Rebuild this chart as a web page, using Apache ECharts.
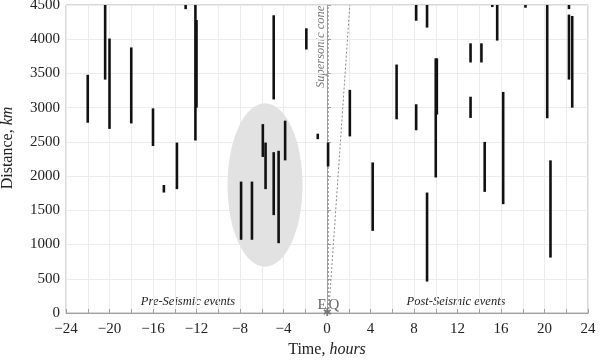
<!DOCTYPE html>
<html>
<head>
<meta charset="utf-8">
<script src="https://cdn.jsdelivr.net/npm/echarts@6/dist/echarts.min.js"></script>
<style>html,body{margin:0;padding:0;background:#fff}#c{width:600px;height:360px}</style>
</head>
<body>
<div id="c"></div>
<script>
// Event bars: time (hours), upper and lower distance (km)
const barTimes = [-22, -20.4, -20.0, -18.0, -16.0, -15.0, -13.8, -13.0, -12.1, -12.0,
  -4.9, -1.9, -0.85, 0.1, -7.9, -6.9, -5.9, -5.65, -4.9, -4.45, -3.85,
  2.1, 4.2, 6.4, 8.2, 8.2, 9.2, 9.2, 10.0, 10.1, 13.2, 14.2, 13.2, 14.5,
  15.2, 15.65, 16.2, 18.25, 20.25, 20.55, 22.25, 22.25, 22.55];
const barTop = [3480, 4500, 4010, 3880, 2990, 1870, 2490, 4500, 4500, 4280,
  4350, 4160, 2620, 2490, 1920, 1920, 2760, 2490, 2350, 2370, 2810,
  3260, 2200, 3630, 4500, 3050, 4500, 1760, 3720, 3720, 3940, 3940, 3160, 2500,
  4500, 4500, 3230, 4500, 4500, 2230, 4500, 4360, 4340];
const barBottom = [2780, 3410, 2690, 2770, 2440, 1760, 1810, 4440, 2520, 3000,
  3120, 3850, 2540, 2140, 1070, 1070, 2280, 1810, 1430, 1020, 2230,
  2580, 1200, 2830, 4270, 2670, 4170, 460, 1980, 2900, 3660, 3660, 2850, 1770,
  4470, 3980, 1590, 4460, 2845, 810, 4440, 3410, 3000];

// Highlight ellipse: center (h, km) and radii (h, km)
const ellipseCenter = [-5.7, 1870];
const ellipseRadii = [3.45, 1194];

// Supersonic cone lines
const coneVertical = [[0.12, 0], [0.1, 4500]];
const coneSlanted = [[0.15, 0], [2.1, 4500]];

const xTicks = [-24, -20, -16, -12, -8, -4, 0, 4, 8, 12, 16, 20, 24];
const yTicks = [0, 500, 1000, 1500, 2000, 2500, 3000, 3500, 4000, 4500];

const serif = '"Liberation Serif", "DejaVu Serif", serif';
const chart = echarts.init(document.getElementById('c'), null, {renderer: 'canvas'});

const barData = barTimes.map((t, i) => [t, barTop[i], barBottom[i]]);

chart.setOption({
  animation: false,
  backgroundColor: '#fff',
  grid: {left: 66, right: 12, top: 5, bottom: 47, show: true, borderColor: '#b0b0b0', borderWidth: 1,
    outerBoundsMode: 'none', containLabel: false},
  xAxis: {
    type: 'value', min: -24, max: 24, interval: 2,
    name: '{a|Time, }{b|hours}', nameLocation: 'middle', nameGap: 27,
    nameTextStyle: {rich: {
      a: {fontFamily: serif, fontSize: 16, color: '#222'},
      b: {fontFamily: serif, fontSize: 16, color: '#222', fontStyle: 'italic'}
    }},
    axisLine: {show: true, lineStyle: {color: '#a0a0a0'}},
    axisTick: {show: true, inside: true, length: 4, lineStyle: {color: '#a0a0a0'}},
    axisLabel: {
      fontFamily: serif, fontSize: 15, color: '#222', margin: 9,
      formatter: v => xTicks.indexOf(v) >= 0 ? String(v).replace('-', '\u2212') : ''
    },
    splitLine: {show: true, lineStyle: {color: '#ececec', width: 1}}
  },
  yAxis: {
    type: 'value', min: 0, max: 4500, interval: 500,
    name: '{a|Distance, }{b|km}', nameLocation: 'middle', nameGap: 50, nameRotate: 90,
    nameTextStyle: {padding: [0, 0, 0, 22], rich: {
      a: {fontFamily: serif, fontSize: 16, color: '#222'},
      b: {fontFamily: serif, fontSize: 16, color: '#222', fontStyle: 'italic'}
    }},
    axisLine: {show: true, lineStyle: {color: '#a0a0a0'}},
    axisTick: {show: true, inside: true, length: 4, lineStyle: {color: '#a0a0a0'}},
    axisLabel: {fontFamily: serif, fontSize: 15, color: '#222', margin: 6,
      formatter: v => yTicks.indexOf(v) >= 0 ? String(v) : ''},
    splitLine: {show: true, lineStyle: {color: '#ececec', width: 1}}
  },
  series: [
    {
      type: 'custom', z: 1,
      data: [[ellipseCenter[0], ellipseCenter[1], ellipseRadii[0], ellipseRadii[1]]],
      renderItem: (params, api) => {
        const c = api.coord([api.value(0), api.value(1)]);
        const s = api.size([api.value(2), api.value(3)]);
        return {type: 'ellipse', shape: {cx: c[0], cy: c[1], rx: s[0], ry: s[1]},
          style: {fill: '#e2e2e2', stroke: null}};
      }
    },
    {
      type: 'line', data: coneVertical, symbol: 'none', z: 2,
      lineStyle: {color: '#888', width: 1, type: [2, 2]}
    },
    {
      type: 'line', data: coneSlanted, symbol: 'none', z: 2,
      lineStyle: {color: '#888', width: 1, type: [2, 2]}
    },
    {
      type: 'custom', z: 3,
      data: barData,
      renderItem: (params, api) => {
        const p1 = api.coord([api.value(0), api.value(1)]);
        const p2 = api.coord([api.value(0), api.value(2)]);
        return {type: 'line', shape: {x1: p1[0], y1: p1[1], x2: p2[0], y2: p2[1]},
          style: {stroke: '#111', lineWidth: 2.6}};
      }
    },
    {
      type: 'custom', z: 4,
      data: [[0, 0]],
      renderItem: (params, api) => {
        const p = api.coord([api.value(0), api.value(1)]);
        return {type: 'text', x: p[0], y: p[1],
          style: {text: '\u2731', fill: '#777', font: '11px "DejaVu Sans"', align: 'center', verticalAlign: 'middle'}};
      }
    }
  ],
  graphic: [
    {type: 'text', x: 321, y: 88, rotation: Math.PI / 2,
      style: {text: 'Supersonic cone', fill: '#777', font: 'italic 12.5px ' + serif, align: 'left', verticalAlign: 'middle'}},
    {type: 'text', x: 188, y: 302, style: {text: 'Pre-Seismic events', fill: '#222', font: 'italic 12.5px ' + serif, align: 'center', verticalAlign: 'middle'}},
    {type: 'text', x: 456, y: 302, style: {text: 'Post-Seismic events', fill: '#222', font: 'italic 12.5px ' + serif, align: 'center', verticalAlign: 'middle'}},
    {type: 'text', x: 322, y: 305, style: {text: 'E', fill: '#666', font: '15px ' + serif, align: 'center', verticalAlign: 'middle'}},
    {type: 'text', x: 334, y: 305, style: {text: 'Q', fill: '#666', font: '15px ' + serif, align: 'center', verticalAlign: 'middle'}}
  ]
});
</script>
</body>
</html>
